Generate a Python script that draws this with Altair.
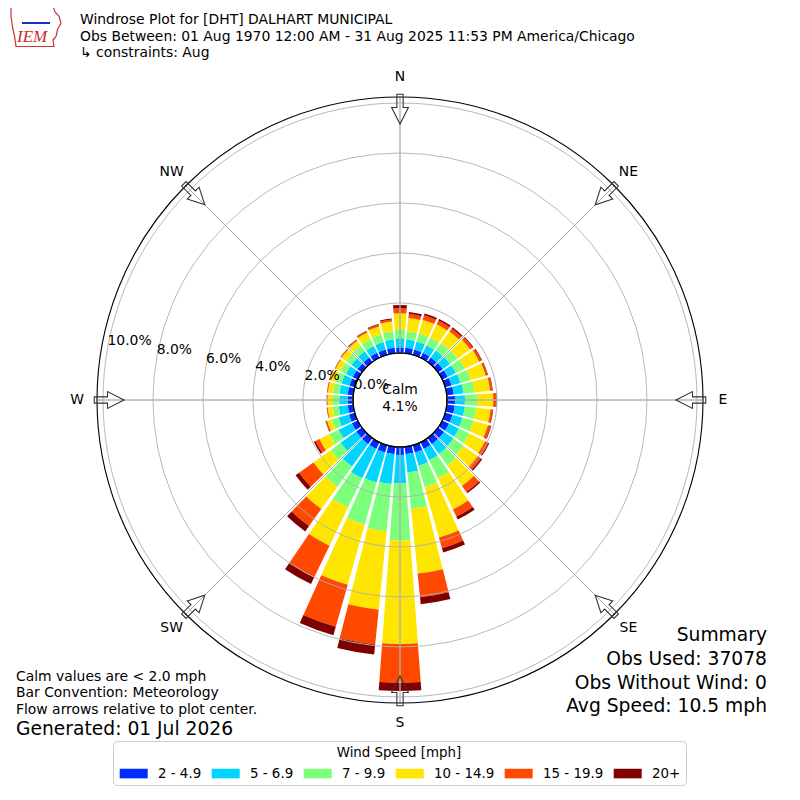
import math
import altair as alt
import pandas as pd

# ---------------- data ----------------
directions = list(range(0, 360, 10))
speed_bins = ["2 - 4.9", "5 - 6.9", "7 - 9.9", "10 - 14.9", "15 - 19.9", "20+"]
bin_colors = ["#002aff", "#00d4ff", "#7cff7b", "#ffe600", "#ff4800", "#800000"]

# cumulative outer edge (%) of each speed band, per direction (0, 10, ... 350 deg)
edge_2_4_9 = [0.23, 0.22, 0.22, 0.22, 0.22, 0.23, 0.24, 0.26, 0.28, 0.32, 0.32, 0.30,
              0.30, 0.30, 0.30, 0.30, 0.30, 0.30, 0.32, 0.30, 0.30, 0.30, 0.30, 0.28,
              0.26, 0.24, 0.22, 0.22, 0.22, 0.22, 0.22, 0.22, 0.22, 0.22, 0.22, 0.22]
edge_5_6_9 = [0.59, 0.55, 0.55, 0.55, 0.56, 0.58, 0.60, 0.63, 0.67, 0.72, 0.72, 0.72,
              0.74, 0.76, 0.78, 0.80, 0.85, 1.04, 1.45, 1.50, 1.55, 1.60, 1.40, 1.05,
              0.85, 0.68, 0.58, 0.55, 0.55, 0.55, 0.52, 0.52, 0.52, 0.52, 0.53, 0.55]
edge_7_9_9 = [0.95, 0.88, 0.88, 0.90, 0.92, 0.96, 1.00, 1.05, 1.12, 1.21, 1.18, 1.18,
              1.20, 1.25, 1.35, 1.60, 1.75, 2.50, 3.75, 3.40, 3.30, 2.90, 2.40, 1.55,
              1.25, 0.95, 0.82, 0.80, 0.80, 0.80, 0.76, 0.78, 0.80, 0.82, 0.85, 0.88]
edge_10_14_9 = [1.59, 1.42, 1.45, 1.48, 1.50, 1.58, 1.64, 1.68, 1.74, 1.85, 1.76, 1.78,
                1.90, 1.95, 2.36, 2.98, 3.84, 5.10, 7.88, 6.55, 5.80, 4.60, 3.50, 2.39,
                1.70, 1.15, 1.03, 1.02, 1.02, 1.03, 0.98, 1.01, 1.04, 1.12, 1.18, 1.28]
edge_15_19_9 = [1.79, 1.58, 1.64, 1.65, 1.65, 1.70, 1.74, 1.76, 1.83, 1.97, 1.85, 1.89,
                2.05, 2.12, 2.66, 3.30, 4.28, 6.05, 9.43, 7.95, 7.55, 6.00, 4.34, 3.10,
                1.88, 1.20, 1.06, 1.05, 1.05, 1.06, 1.01, 1.05, 1.08, 1.18, 1.25, 1.36]
edge_20_plus = [1.92, 1.66, 1.72, 1.72, 1.71, 1.74, 1.77, 1.78, 1.85, 1.99, 1.87, 1.92,
                2.09, 2.18, 2.72, 3.43, 4.46, 6.33, 9.76, 8.35, 7.90, 6.30, 4.60, 3.27,
                1.95, 1.22, 1.07, 1.06, 1.06, 1.07, 1.02, 1.06, 1.10, 1.20, 1.28, 1.40]

ring_values = [0, 2, 4, 6, 8, 10]
ring_labels = ["0.0%", "2.0%", "4.0%", "6.0%", "8.0%", "10.0%"]
compass_angles = [0, 45, 90, 135, 180, 225, 270, 315]
compass_names = ["N", "NE", "E", "SE", "S", "SW", "W", "NW"]

title_lines = ["Windrose Plot for [DHT] DALHART MUNICIPAL",
               "Obs Between: 01 Aug 1970 12:00 AM - 31 Aug 2025 11:53 PM America/Chicago",
               " \u21b3 constraints: Aug"]
summary_lines = ["Summary", "Obs Used: 37078", "Obs Without Wind: 0", "Avg Speed: 10.5 mph"]
note_lines = ["Calm values are < 2.0 mph", "Bar Convention: Meteorology",
              "Flow arrows relative to plot center."]
generated_line = "Generated: 01 Jul 2026"
calm_lines = ["Calm", "4.1%"]

# ---------------- tables ----------------
edges = [edge_2_4_9, edge_5_6_9, edge_7_9_9, edge_10_14_9, edge_15_19_9, edge_20_plus]
half_width = 4.2
rows = []
for i, d in enumerate(directions):
    lo = 0.0
    for b, name in enumerate(speed_bins):
        hi = edges[b][i]
        rows.append({"dir": d, "t0": d - half_width, "t1": d + half_width,
                     "lo": lo, "hi": hi, "bin": name})
        lo = hi
bars_df = pd.DataFrame(rows)

rings_df = pd.DataFrame({"t0": 0, "t1": 360, "r": ring_values[1:]})
outer_df = pd.DataFrame({"t0": [0], "t1": [360], "r": [10.24]})
calm_df = pd.DataFrame({"t0": [0], "t1": [360], "r": [0]})
spokes_df = pd.DataFrame({"t0": compass_angles, "t1": compass_angles,
                          "lo": 0, "hi": 10.24})
ring_text_df = pd.DataFrame({"t": 280, "r": ring_values, "label": ring_labels})
compass_df = pd.DataFrame({"t": compass_angles, "r": 11.04, "label": compass_names})
arrow_r = 291
arrow_df = pd.DataFrame({
    "ang": compass_angles,
    "px": [math.sin(math.radians(a)) * arrow_r for a in compass_angles],
    "py": [math.cos(math.radians(a)) * arrow_r for a in compass_angles],
})

W, H = 770, 778
CX, CY = 392, 392
theta_scale = alt.Scale(type="linear", domain=[0, 360], range=[0, 2 * math.pi])
r_scale = alt.Scale(type="linear", domain=[0, 10], range=[47, 297])
x_scale = alt.Scale(domain=[-392, 392], range=[0, 784], nice=False, zero=False)
y_scale = alt.Scale(domain=[-392, 392], range=[784, 0], nice=False, zero=False)
FONT = "DejaVu Sans"
FS = 13.9
GRID = "#b0b0b0"
CENTER = dict(x=alt.value(CX), y=alt.value(CY))

legend = alt.Legend(
    orient="none", legendX=105, legendY=733, direction="horizontal",
    title="Wind Speed [mph]", titleAnchor="middle", titleFont=FONT,
    titleFontWeight="normal", titleFontSize=13.4, titleColor="black",
    titlePadding=7, labelFont=FONT, labelFontSize=13.4, labelColor="black",
    symbolType="M-1,-0.96L4.6,-0.96L4.6,0.96L-1,0.96Z", symbolSize=100,
    symbolStrokeWidth=0, symbolOpacity=1, labelOffset=26.6, columnPadding=8,
    padding=5, strokeColor="#cccccc", fillColor="white", cornerRadius=4,
)

bars = alt.Chart(bars_df).mark_arc(strokeWidth=0).encode(
    theta=alt.Theta("t0:Q", scale=theta_scale),
    theta2="t1:Q",
    radius=alt.Radius("hi:Q", scale=r_scale),
    radius2="lo:Q",
    color=alt.Color("bin:N", scale=alt.Scale(domain=speed_bins, range=bin_colors),
                    legend=legend),
    **CENTER,
)

spokes = alt.Chart(spokes_df).mark_arc(filled=False, stroke=GRID, strokeWidth=0.9).encode(
    theta=alt.Theta("t0:Q", scale=theta_scale), theta2="t1:Q",
    radius=alt.Radius("hi:Q", scale=r_scale), radius2="lo:Q", **CENTER,
)
rings = alt.Chart(rings_df).mark_arc(filled=False, stroke=GRID, strokeWidth=0.9).encode(
    theta=alt.Theta("t0:Q", scale=theta_scale), theta2="t1:Q",
    radius=alt.Radius("r:Q", scale=r_scale), **CENTER,
)
outer = alt.Chart(outer_df).mark_arc(filled=False, stroke="black", strokeWidth=1.1).encode(
    theta=alt.Theta("t0:Q", scale=theta_scale), theta2="t1:Q",
    radius=alt.Radius("r:Q", scale=r_scale), **CENTER,
)
calm = alt.Chart(calm_df).mark_arc(fill="white", stroke="black", strokeWidth=1.1).encode(
    theta=alt.Theta("t0:Q", scale=theta_scale), theta2="t1:Q",
    radius=alt.Radius("r:Q", scale=r_scale), **CENTER,
)
ring_text = alt.Chart(ring_text_df).mark_text(
    align="left", baseline="bottom", font=FONT, fontSize=FS, color="black"
).encode(
    theta=alt.Theta("t:Q", scale=theta_scale),
    radius=alt.Radius("r:Q", scale=r_scale),
    text="label:N", **CENTER,
)
compass_text = alt.Chart(compass_df).mark_text(
    align="center", baseline="middle", font=FONT, fontSize=FS, color="black"
).encode(
    theta=alt.Theta("t:Q", scale=theta_scale),
    radius=alt.Radius("r:Q", scale=r_scale),
    text="label:N", **CENTER,
)
arrow_path = "M0,1L-0.56,-0.1L-0.21,-0.1L-0.21,-0.98L0.21,-0.98L0.21,-0.1L0.56,-0.1Z"
arrows = alt.Chart(arrow_df).mark_point(
    shape=arrow_path, size=900, filled=False, stroke="#333333", strokeWidth=1.1, opacity=1
).encode(
    x=alt.X("px:Q", scale=x_scale, axis=None),
    y=alt.Y("py:Q", scale=y_scale, axis=None),
    angle=alt.Angle("ang:Q", scale=None),
)


def text_layer(lines, x, ys, size, align):
    df = pd.DataFrame({"label": lines, "y": ys})
    return alt.Chart(df).mark_text(
        align=align, baseline="middle", font=FONT, fontSize=size, color="black",
    ).encode(x=alt.value(x), y=alt.Y("y:Q", scale=None), text="label:N")


titles = text_layer(title_lines, 72, [12, 28.5, 45], FS, "left")
summary = text_layer(summary_lines, 759, [627, 651, 675, 698], 18.7, "right")
notes = text_layer(note_lines, 8, [669, 685, 702], FS, "left")
generated = text_layer([generated_line], 8, [721], 18.7, "left")
calm_text = text_layer(calm_lines, CX, [382, 399], FS, "center")

# IEM logo (approximate)
logo_df = pd.DataFrame({"label": ["IEM"]})
logo_text = alt.Chart(logo_df).mark_text(
    align="left", baseline="middle", font="Liberation Serif", fontStyle="italic",
    fontSize=17, color="#cc2a2a"
).encode(x=alt.value(9), y=alt.value(29), text="label:N")
iowa_path = ("M-1,-0.78L0.7,-0.78L0.76,-0.6L0.93,-0.42L1,-0.15L0.86,0.1L0.8,0.38"
             "L0.68,0.52L0.72,0.78L-0.8,0.78L-0.86,0.35L-0.94,0.0L-1,-0.45Z")
logo_shape = alt.Chart(pd.DataFrame({"k": [0]})).mark_point(
    shape=iowa_path, size=2500, filled=False, stroke="#cc3333", strokeWidth=1.2, opacity=1
).encode(x=alt.value(28), y=alt.value(19))
logo_barb = alt.Chart(pd.DataFrame({"k": [0]})).mark_rule(
    color="#1a2fbf", strokeWidth=2
).encode(x=alt.value(14), x2=alt.value(42), y=alt.value(15))

chart = alt.layer(
    bars, spokes, rings, outer, calm, arrows, ring_text, compass_text,
    titles, summary, notes, generated, calm_text, logo_shape, logo_text, logo_barb,
).properties(
    width=W, height=H, padding=0, autosize="none"
).configure(font=FONT).configure_view(strokeWidth=0, strokeOpacity=0)

chart.save("out.html", embed_options={"renderer": "svg", "actions": False})
